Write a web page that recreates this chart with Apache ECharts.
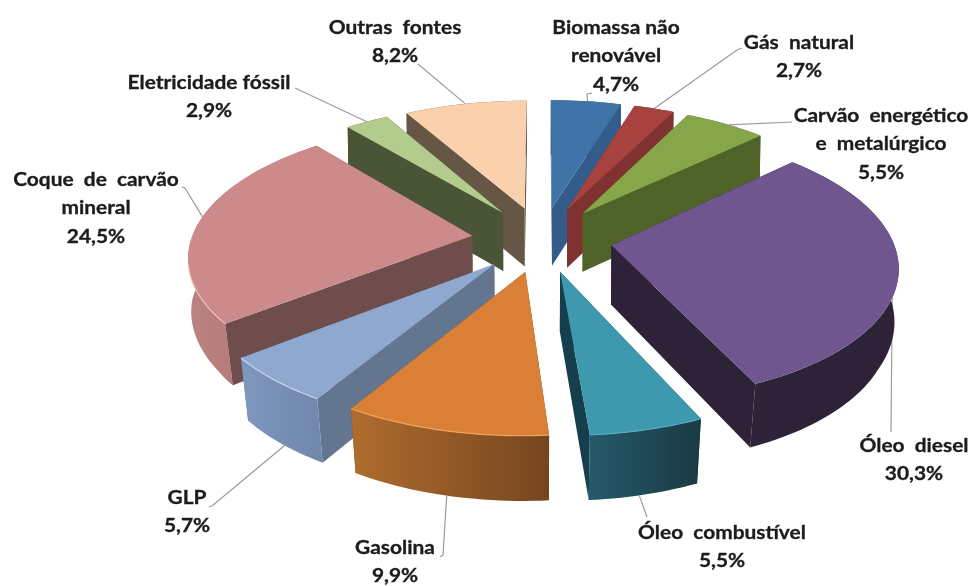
<!DOCTYPE html>
<html>
<head>
<meta charset="utf-8">
<style>
html,body{margin:0;padding:0;background:#fff;overflow:hidden}
#main{width:973px;height:586px;filter:blur(0.55px)}
</style>
<script src="https://cdn.jsdelivr.net/npm/echarts@6/dist/echarts.min.js"></script>
</head>
<body>
<div id="main"></div>
<script>
// ---- data (clockwise from 12 o'clock) ----
const categories = ['Biomassa não renovável','Gás natural','Carvão energético e metalúrgico','Óleo diesel','Óleo combustível','Gasolina','GLP','Coque de carvão mineral','Eletricidade fóssil','Outras fontes'];
const values = [4.7,2.7,5.5,30.3,5.5,9.9,5.7,24.5,2.9,8.2];
const labelLines = [['Biomassa não','renovável'],['Gás\u00a0 natural'],['Carvão\u00a0 energético','e\u00a0 metalúrgico'],['Óleo\u00a0 diesel'],['Óleo\u00a0 combustível'],['Gasolina'],['GLP'],['Coque\u00a0 de\u00a0 carvão','mineral'],['Eletricidade fóssil'],['Outras\u00a0 fontes']];

// ---- styles ----
const topColors  = ['#3f73a8','#a8423f','#87a64a','#70568e','#3e98ae','#d98036','#8fa8cf','#cd8a8a','#b3cc8e','#fbd0ad'];
const cutColors  = ['#335c8a','#7f3230','#4f6228','#2e2238','#153f4c','#74461f','#64768f','#6f4d4c','#4a5436','#665646'];
const wallLeft   = ['#335c8a','#7f3230','#4f6228','#2e2238','#25596a','#b06c2e','#7f97bd','#bb8280','#4a5436','#665646'];
const wallRight  = ['#335c8a','#7f3230','#4f6228','#2e2238','#1a3a44','#74461f','#6f87ab','#a87070','#4a5436','#665646'];
const edgeColors = [null,null,null,null,'#56adc4','#f0a45c','#c8d6ee','#eebfbc',null,null];

// ---- layout: projection of the pie plane, and label placement ----
const CX = 542, CY = 239, RX = 281, RY = 130.7, PERSP = 0.14, DEPTH = 59, EXPLODE = 0.25;
const labelPos = [[616,28],[799,43],[881,116],[914,446],[722,533],[395,548],[187,498],[96,180],[209,83],[395,28]];
const lineStep = 28.6;
const leaderElbow = [[[592,93],[587,94]],[[742,48],[737,50]],[[792,122]],[[891,432]],[[647,517]],[[440,557],[443,555]],[[209,507],[212,506]],[[182,187],[185,188]],[[295,88]],[[418,64]]];
const leaderFrac = [0.52,0.5,0.54,0.6,0.55,0.5,0.45,0.53,0.5,0.5];
const leaderOnBottom = [0,0,0,0,1,1,1,0,0,0];

const total = values.reduce((a,b)=>a+b,0);
const starts = []; values.reduce((a,v,i)=>(starts[i]=a,a+v),0);
const toAngle = p => p/total*Math.PI*2;

function project(u,v,bottom){
  const w = 1+PERSP*v;
  let x = CX+RX*u/w, y = CY-RY*v/w;
  if(bottom){
    const s = 0.996-0.02*Math.min(1,Math.max(0,-v/0.5));
    x = CX+(x-CX)*s; y += DEPTH*(1+(1/w-1)*0.5);
  }
  return [x,y];
}
function sliceGeom(i){
  const a0 = toAngle(starts[i]), a1 = toAngle(starts[i]+values[i]), am = (a0+a1)/2;
  const ou = EXPLODE*Math.sin(am), ov = EXPLODE*Math.cos(am);
  const n = Math.max(6,Math.round(values[i]*2.5));
  const pt = (t,b)=>{const a=a0+(a1-a0)*t; return project(ou+Math.sin(a),ov+Math.cos(a),b);};
  const arcTop=[], arcBot=[];
  for(let k=0;k<=n;k++){arcTop.push(pt(k/n,false));arcBot.push(pt(k/n,true));}
  return {ov,pt,arcTop,arcBot,apexTop:project(ou,ov,false),apexBot:project(ou,ov,true)};
}
const order = values.map((_,i)=>i).sort((a,b)=>sliceGeom(b).ov-sliceGeom(a).ov);

function meanY(p){return p.reduce((s,q)=>s+q[1],0)/p.length;}

function renderItem(params,api){
  const i = params.dataIndex, g = sliceGeom(i), base = order.indexOf(i)*10+10, children=[];
  const n = g.arcTop.length-1;
  const cutA = [g.apexTop,g.arcTop[0],g.arcBot[0],g.apexBot];
  const cutB = [g.apexTop,g.arcTop[n],g.arcBot[n],g.apexBot];
  const wall = g.arcTop.concat(g.arcBot.slice().reverse());
  const walls = [
    {p:cutA,fill:cutColors[i]},
    {p:cutB,fill:cutColors[i]},
    {p:wall,fill:{type:'linear',x:0,y:0,x2:1,y2:0,colorStops:[{offset:0,color:wallLeft[i]},{offset:1,color:wallRight[i]}]}}
  ].sort((a,b)=>meanY(a.p)-meanY(b.p));
  walls.forEach((w,k)=>children.push({type:'polygon',z2:base+k,shape:{points:w.p},style:{fill:w.fill}}));
  children.push({type:'polygon',z2:base+5,shape:{points:[g.apexTop].concat(g.arcTop)},style:{fill:topColors[i]}});
  if(edgeColors[i]) children.push({type:'polyline',z2:base+6,shape:{points:g.arcTop.filter(p=>p[1]>CY+25)},style:{fill:null,stroke:edgeColors[i],lineWidth:1.2}});
  // leader line
  const anchor = g.pt(leaderFrac[i],!!leaderOnBottom[i]);
  children.push({type:'polyline',z2:i===3?base-1:base+7,shape:{points:leaderElbow[i].concat([anchor])},style:{fill:null,stroke:'#9b9b9b',lineWidth:1.2}});
  // label text
  const lines = labelLines[i].concat([values[i].toFixed(1).replace('.',',')+'%']);
  lines.forEach((t,k)=>children.push({type:'text',z2:500,x:labelPos[i][0],y:labelPos[i][1]+k*lineStep,scaleX:1.16,
    style:{text:t,x:0,y:0,align:'center',verticalAlign:'middle',fill:'#1c1c1c',stroke:'#1c1c1c',lineWidth:0.3,font:'bold 18px Lato'}}));
  return {type:'group',children};
}

const chart = echarts.init(document.getElementById('main'),null,{renderer:'canvas',width:973,height:586});
chart.setOption({
  animation:false,
  backgroundColor:'#ffffff',
  series:[{
    type:'custom',
    coordinateSystem:'none',
    name:'Participação',
    clip:false,
    silent:true,
    renderItem,
    data:values.map((v,i)=>({name:categories[i],value:[v]}))
  }]
});
</script>
</body>
</html>
